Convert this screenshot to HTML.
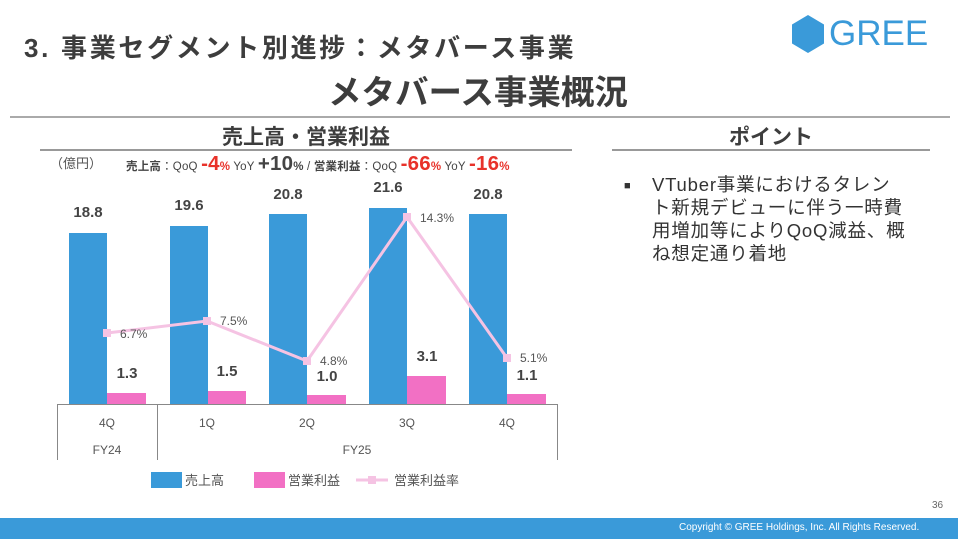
<!DOCTYPE html>
<html><head><meta charset="utf-8"><style>
body{margin:0;width:958px;height:539px;background:#fff;position:relative;overflow:hidden;font-family:"Liberation Sans","Noto Sans CJK JP",sans-serif;color:#333}
.a{position:absolute;white-space:nowrap}
</style></head><body>
<div class="a" style="left:24px;top:28px;font-size:26px;font-weight:bold;color:#3d3d3d;letter-spacing:2.7px">3. 事業セグメント別進捗：メタバース事業</div>
<div class="a" style="left:328px;top:65px;font-size:33.5px;font-weight:bold;color:#3d3d3d">メタバース事業概況</div>
<svg class="a" style="left:791px;top:15px" width="34" height="38"><polygon points="17,0 33,9.5 33,28.5 17,38 1,28.5 1,9.5" fill="#3a9ad9"/></svg>
<div class="a" style="left:829px;top:14px;font-size:35px;color:#3a9ad9">GREE</div>
<div class="a" style="left:10px;top:116px;width:940px;height:2px;background:#aaa"></div>
<div class="a" style="left:40px;top:121px;width:532px;text-align:center;font-size:21px;font-weight:bold;color:#3d3d3d">売上高・営業利益</div>
<div class="a" style="left:40px;top:149px;width:532px;height:2px;background:#999"></div>
<div class="a" style="left:612px;top:121px;width:318px;text-align:center;font-size:21px;font-weight:bold;color:#3d3d3d">ポイント</div>
<div class="a" style="left:612px;top:149px;width:318px;height:2px;background:#999"></div>
<div class="a" style="left:50px;top:153px;font-size:13px;color:#555">（億円）</div>
<div class="a" style="left:126px;top:152px;font-size:11.5px;color:#444;letter-spacing:0.2px"><b>売上高</b>：QoQ <b style="color:#e8322a;font-size:20.5px">-4</b><b style="color:#e8322a">%</b> YoY <b style="font-size:20.5px;color:#444">+10</b><b>%</b> / <b>営業利益</b>：QoQ <b style="color:#e8322a;font-size:20.5px">-66</b><b style="color:#e8322a">%</b> YoY <b style="color:#e8322a;font-size:20.5px">-16</b><b style="color:#e8322a">%</b></div>
<svg class="a" style="left:0;top:0" width="600" height="500" font-family="Liberation Sans, Noto Sans CJK JP, sans-serif">
<g fill="#3a9ad9"><rect x="69" y="233" width="38" height="171"/><rect x="170" y="226" width="38" height="178"/><rect x="269" y="214" width="38" height="190"/><rect x="369" y="208" width="38" height="196"/><rect x="469" y="214" width="38" height="190"/></g>
<g fill="#f270c4"><rect x="107" y="393" width="39" height="11"/><rect x="208" y="391" width="38" height="13"/><rect x="307" y="395" width="39" height="9"/><rect x="407" y="376" width="39" height="28"/><rect x="507" y="394" width="39" height="10"/></g>
<polyline points="107,333 207,321 307,361 407,217 507,358" fill="none" stroke="#f5c3e3" stroke-width="3"/>
<g fill="#f5c3e3"><rect x="103" y="329" width="8" height="8"/><rect x="203" y="317" width="8" height="8"/><rect x="303" y="357" width="8" height="8"/><rect x="403" y="213" width="8" height="8"/><rect x="503" y="354" width="8" height="8"/></g>
<g font-size="12" fill="#555"><text x="120" y="338">6.7%</text><text x="220" y="325">7.5%</text><text x="320" y="365">4.8%</text><text x="420" y="222">14.3%</text><text x="520" y="362">5.1%</text></g>
<g font-size="15" font-weight="bold" fill="#444" text-anchor="middle"><text x="88" y="217">18.8</text><text x="189" y="210">19.6</text><text x="288" y="199">20.8</text><text x="388" y="192">21.6</text><text x="488" y="199">20.8</text>
<text x="127" y="378">1.3</text><text x="227" y="376">1.5</text><text x="327" y="381">1.0</text><text x="427" y="361">3.1</text><text x="527" y="380">1.1</text></g>
<g stroke="#888" stroke-width="1"><line x1="57" y1="404.5" x2="558" y2="404.5"/><line x1="57.5" y1="404" x2="57.5" y2="460"/><line x1="157.5" y1="404" x2="157.5" y2="460"/><line x1="557.5" y1="404" x2="557.5" y2="460"/></g>
<g font-size="12" fill="#555" text-anchor="middle"><text x="107" y="427">4Q</text><text x="207" y="427">1Q</text><text x="307" y="427">2Q</text><text x="407" y="427">3Q</text><text x="507" y="427">4Q</text><text x="107" y="454">FY24</text><text x="357" y="454">FY25</text></g>
<rect x="151" y="472" width="31" height="16" fill="#3a9ad9"/><text x="185" y="485" font-size="13" fill="#555">売上高</text>
<rect x="254" y="472" width="31" height="16" fill="#f270c4"/><text x="288" y="485" font-size="13" fill="#555">営業利益</text>
<line x1="356" y1="480" x2="388" y2="480" stroke="#f5c3e3" stroke-width="3"/><rect x="368" y="476" width="8" height="8" fill="#f5c3e3"/><text x="394" y="485" font-size="13" fill="#555">営業利益率</text>
</svg>
<div class="a" style="left:624px;top:180px;font-size:11px;color:#333">■</div>
<div class="a" style="left:652px;top:173px;font-size:18.5px;line-height:23px;color:#333;letter-spacing:0.8px">VTuber事業におけるタレン<br>ト新規デビューに伴う一時費<br>用増加等によりQoQ減益、概<br>ね想定通り着地</div>
<div class="a" style="left:932px;top:500px;font-size:10px;color:#666">36</div>
<div class="a" style="left:0;top:518px;width:958px;height:21px;background:#3a9ad9"></div>
<div class="a" style="left:679px;top:522px;font-size:10px;color:#fff">Copyright © GREE Holdings, Inc. All Rights Reserved.</div>
</body></html>
